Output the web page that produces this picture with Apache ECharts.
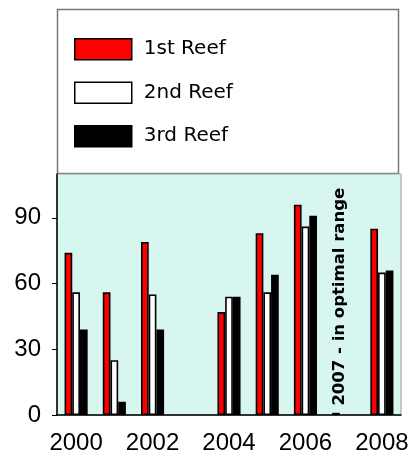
<!DOCTYPE html>
<html>
<head>
<meta charset="utf-8">
<script src="https://cdn.jsdelivr.net/npm/echarts@6/dist/echarts.min.js"></script>
</head>
<body style="margin:0;background:#fff">
<div id="main" style="width:412px;height:456px;"></div>
<script>
// data
var years = ['2000', '2001', '2002', '2003', '2004', '2005', '2006', '2007', '2008'];
var reef1 = [74, 56, 79, null, 47, 83, 96, 1, 85];
var reef2 = [56, 25, 55, null, 54, 56, 86, null, 65];
var reef3 = [39, 6, 39, null, 54, 64, 91, null, 66];
var seriesNames = ['1st Reef', '2nd Reef', '3rd Reef'];
var yTicks = [0, 30, 60, 90];
var note = '2007 - in optimal range';

var myChart = echarts.init(document.getElementById('main'));
var comic = '"Comic Sans MS", "DejaVu Sans", sans-serif';

function barSeries(name, data, color) {
  return {
    name: name,
    type: 'bar',
    data: data,
    barWidth: 7.7,
    barGap: '0%',
    itemStyle: { color: color, borderColor: '#000', borderWidth: 1.6 }
  };
}

var option = {
  animation: false,
  grid: {
    left: 57, right: 11, top: 174, bottom: 41,
    show: true,
    backgroundColor: '#d8f6f0',
    borderColor: '#9a9a9a',
    borderWidth: 1
  },
  legend: {
    orient: 'vertical',
    left: 74,
    top: 38,
    padding: 0,
    itemWidth: 57,
    itemHeight: 21,
    itemGap: 21,
    icon: 'rect',
    data: seriesNames,
    textStyle: { fontFamily: comic, fontSize: 20, color: '#000', padding: [0, 0, 0, 7] },
    itemStyle: { borderColor: '#000', borderWidth: 1.5 }
  },
  xAxis: {
    type: 'category',
    data: years,
    axisLine: { lineStyle: { color: '#000', width: 1.5 } },
    axisTick: { show: false },
    axisLabel: {
      interval: 1,
      margin: 16,
      color: '#000',
      fontFamily: 'Liberation Sans, Arial, sans-serif',
      fontSize: 24
    }
  },
  yAxis: {
    type: 'value',
    min: 0,
    max: 110,
    splitLine: { show: false },
    axisLine: { show: true, lineStyle: { color: '#000', width: 1.5 } },
    axisTick: { show: true, length: 5, customValues: yTicks, lineStyle: { color: '#000' } },
    axisLabel: {
      margin: 16,
      color: '#000',
      customValues: yTicks,
      fontFamily: 'Liberation Sans, Arial, sans-serif',
      fontSize: 24
    }
  },
  series: [
    barSeries(seriesNames[0], reef1, '#ff0000'),
    barSeries(seriesNames[1], reef2, '#ffffff'),
    barSeries(seriesNames[2], reef3, '#000000')
  ]
};
myChart.setOption(option);

// legend frame and the rotated note over 2007
var pt = myChart.convertToPixel({ xAxisIndex: 0, yAxisIndex: 0 }, ['2007', 54]);
myChart.setOption({
  graphic: [
    {
      type: 'rect',
      z: -1,
      shape: { x: 57.5, y: 9.5, width: 341, height: 164 },
      style: { fill: '#fff', stroke: '#777', lineWidth: 1.5 }
    },
    {
      type: 'text',
      x: pt[0] - 4,
      y: pt[1],
      rotation: Math.PI / 2,
      style: {
        text: note,
        fontFamily: comic,
        fontWeight: 'bold',
        fontSize: 16.5,
        fill: '#000',
        align: 'center',
        verticalAlign: 'middle'
      }
    }
  ]
});
</script>
</body>
</html>
